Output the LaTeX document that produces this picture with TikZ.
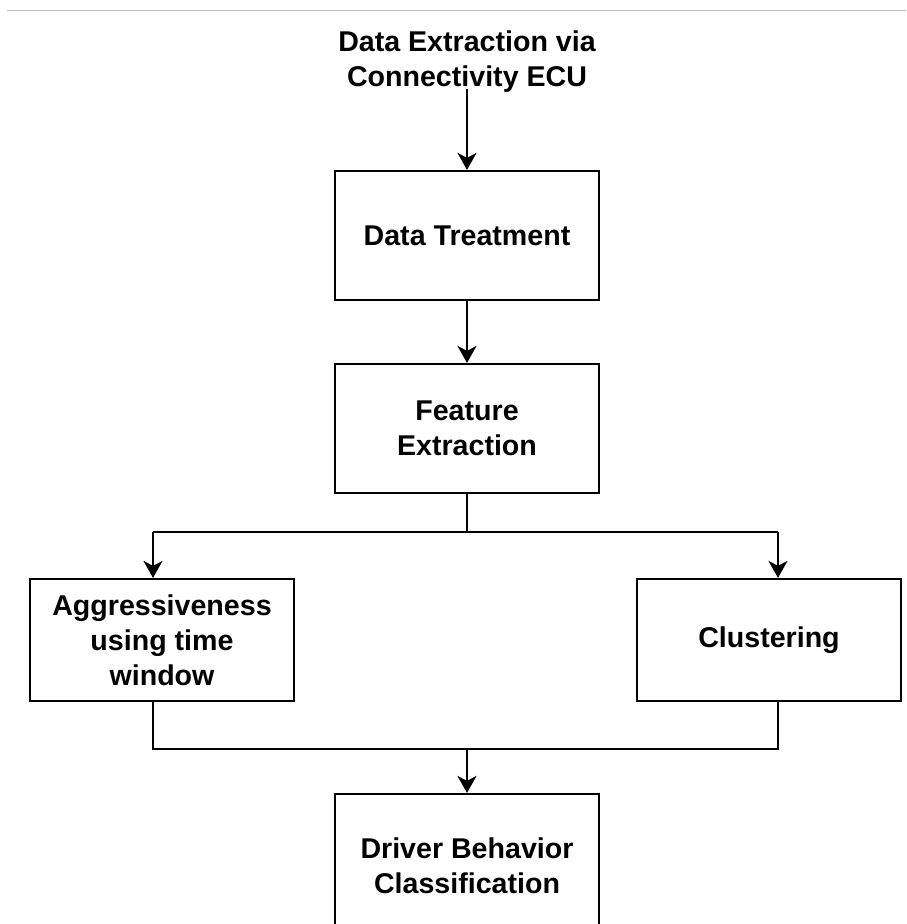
\documentclass[tikz,border=0pt]{standalone}
\usepackage{fontspec}
\setmainfont{Liberation Sans}
\usetikzlibrary{arrows.meta}
\begin{document}
\begin{tikzpicture}[x=1pt,y=-1pt,
  txt/.style={inner sep=0pt, align=center, font=\bfseries\fontsize{28.6}{35}\selectfont},
  box/.style={txt, draw, line width=2.2pt, minimum width=264pt},
  flow/.style={line width=2.2pt, -{Stealth[length=17pt,width=19pt,inset=5pt]}},
  link/.style={line width=2.2pt}]
\useasboundingbox (0,0) rectangle (906,924);
\clip (0,0) rectangle (906,924);
% thin rule along the top
\draw[gray!50, line width=1pt] (7,10.5) -- (906,10.5);

% stages
\node[txt] (src) at (467,62) {Data Extraction via\\Connectivity ECU};
\node[box, minimum height=129pt] (treat) at (467,235.5) {Data Treatment};
\node[box, minimum height=129pt] (feat) at (467,428.5) {Feature\\Extraction};
\node[box, minimum height=122pt] (aggr) at (162,640) {Aggressiveness\\using time\\window};
\node[box, minimum height=122pt] (clus) at (769,640) {Clustering};
\node[box, minimum height=144pt] (drv) at (467,866) {Driver Behavior\\Classification};

% branch and join points
\coordinate (split) at (467,532);
\coordinate (splitL) at (153,532);
\coordinate (splitR) at (778,532);
\coordinate (join) at (467,749);
\coordinate (joinL) at (153,749);
\coordinate (joinR) at (778,749);

% connectors
\draw[flow] ([yshift=4pt]src.south) -- (treat.north);
\draw[flow] (treat.south) -- (feat.north);
\draw[link] (feat.south) -- (split);
\draw[link] (splitL) -- (splitR);
\draw[flow] (splitL) -- (splitL |- aggr.north);
\draw[flow] (splitR) -- (splitR |- clus.north);
\draw[link] (aggr.south -| joinL) -- (joinL) -- (joinR) -- (clus.south -| joinR);
\draw[flow] (join) -- (drv.north);
\end{tikzpicture}
\end{document}
